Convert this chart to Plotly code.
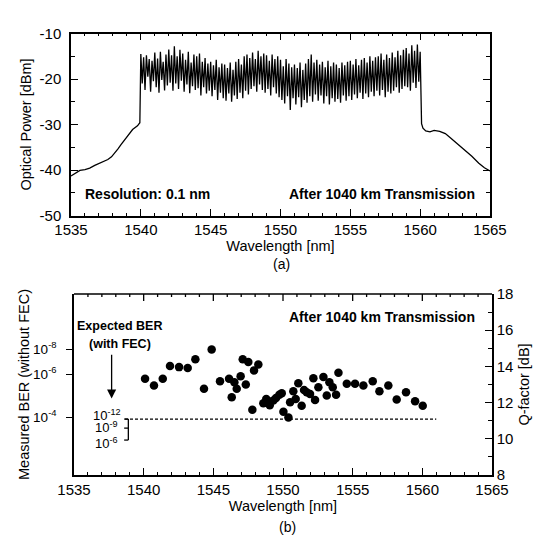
import plotly.graph_objects as go

# ---- panel (a): optical spectrum after 1040 km ----
# left ASE skirt
skirt_l_wl = [1535.0, 1535.3, 1535.64, 1536.0, 1536.34, 1536.7, 1537.05, 1537.4, 1537.64,
              1537.9, 1538.11, 1538.35, 1538.58, 1538.8, 1539.06, 1539.41, 1539.76, 1539.93]
skirt_l_dbm = [-41.3, -40.7, -40.1, -39.9, -39.6, -39.0, -38.5, -38.1, -37.7,
               -37.1, -36.4, -35.4, -34.4, -33.5, -32.5, -31.1, -30.3, -29.6]

# WDM band, sampled every 0.1 nm from 1540.0 nm
BAND_START = 1540.0
BAND_STEP = 0.1
band_dbm = [
    -14.5, -21.0, -15.2, -22.4, -14.8, -19.5, -15.6, -22.8, -16.0, -20.5,  # 1540
    -14.2, -21.8, -15.5, -23.0, -14.0, -20.2, -16.2, -22.5, -14.6, -21.4,  # 1541
    -13.5, -20.8, -14.8, -22.6, -12.8, -21.0, -15.0, -22.2, -13.6, -20.4,  # 1542
    -14.4, -22.8, -15.8, -21.2, -14.0, -23.1, -16.4, -21.6, -14.6, -22.4,  # 1543
    -15.0, -22.0, -14.4, -23.6, -16.2, -21.8, -15.4, -23.2, -16.6, -22.6,  # 1544
    -16.2, -23.8, -17.0, -22.4, -15.8, -24.6, -17.4, -23.0, -16.6, -24.2,  # 1545
    -16.8, -24.8, -17.6, -23.2, -16.4, -25.0, -18.0, -23.6, -16.2, -24.4,  # 1546
    -15.6, -23.0, -16.8, -24.2, -15.0, -22.6, -14.6, -23.4, -15.4, -22.2,  # 1547
    -14.2, -21.6, -15.6, -22.8, -13.8, -21.2, -15.0, -22.4, -14.4, -23.0,  # 1548
    -14.8, -22.2, -16.0, -23.6, -14.6, -21.8, -15.6, -23.2, -15.0, -24.0,  # 1549
    -15.8, -24.6, -17.2, -25.4, -15.6, -23.8, -16.6, -26.8, -17.4, -24.2,  # 1550
    -16.8, -25.6, -17.6, -24.0, -16.4, -26.2, -18.0, -24.6, -16.6, -25.2,  # 1551
    -15.6, -23.8, -14.6, -25.0, -16.4, -23.4, -15.8, -24.8, -16.8, -23.6,  # 1552
    -16.2, -25.4, -17.4, -23.8, -16.0, -25.6, -17.2, -24.2, -16.4, -25.0,  # 1553
    -16.8, -24.4, -17.6, -25.2, -16.4, -23.6, -17.0, -24.8, -16.2, -23.8,  # 1554
    -16.0, -24.6, -16.8, -23.4, -15.6, -24.2, -17.0, -23.0, -15.8, -24.4,  # 1555
    -15.4, -23.2, -16.4, -24.0, -15.0, -22.8, -16.0, -23.8, -15.2, -22.6,  # 1556
    -15.0, -23.6, -14.4, -22.4, -15.8, -24.0, -14.6, -22.8, -15.4, -23.2,  # 1557
    -14.2, -22.6, -15.2, -21.8, -13.8, -23.0, -14.8, -22.2, -13.6, -21.6,  # 1558
    -13.2, -21.8, -14.4, -22.6, -12.6, -20.8, -13.8, -22.0, -12.4, -20.6,  # 1559
]

# right ASE skirt
skirt_r_wl = [1560.0, 1560.05, 1560.1, 1560.2, 1560.4, 1560.7, 1561.0, 1561.4, 1561.8,
              1562.2, 1562.7, 1563.2, 1563.7, 1564.2, 1564.6, 1565.0]
skirt_r_dbm = [-14.0, -25.0, -29.8, -30.8, -31.4, -31.6, -31.3, -31.5, -32.0,
               -33.0, -34.3, -35.6, -37.0, -38.5, -39.5, -40.2]

power_ticks = [-50, -40, -30, -20, -10]
power_tick_text = ["-50", "-40", "-30", "-20", "-10"]

# ---- panel (b): Q-factor per channel ----
ch_wl = [1540.10, 1540.74, 1541.37, 1541.89, 1542.54, 1543.16, 1543.71, 1544.88, 1544.33,
         1545.48, 1546.13, 1546.32, 1546.68, 1546.51, 1546.96, 1547.33, 1547.11, 1547.51,
         1548.23, 1547.92, 1547.80, 1548.59, 1548.80, 1548.95, 1549.05, 1549.31, 1549.50,
         1549.74, 1549.91, 1550.03, 1550.39, 1550.51, 1550.74, 1550.91, 1551.10, 1551.34,
         1551.51, 1551.70, 1551.94, 1552.30, 1552.18, 1552.54, 1552.90, 1553.14, 1553.33,
         1553.57, 1553.81, 1553.98, 1554.58, 1555.17, 1555.77, 1556.44, 1556.92, 1557.56,
         1558.16, 1558.83, 1559.48, 1560.03]
ch_q = [13.32, 12.94, 13.32, 14.02, 13.96, 13.91, 14.39, 14.94, 12.76,
        13.18, 13.32, 12.30, 12.76, 13.13, 13.46, 13.00, 14.39, 14.24,
        14.11, 13.78, 11.61, 11.96, 12.20, 12.07, 11.85, 12.11, 12.25,
        12.44, 12.52, 11.50, 11.18, 12.02, 12.63, 12.20, 13.07, 11.83,
        12.70, 12.57, 12.48, 12.15, 13.35, 12.85, 13.41, 12.39, 13.13,
        12.85, 12.43, 13.65, 13.04, 13.04, 12.94, 13.18, 12.63, 12.94,
        12.17, 12.57, 12.07, 11.83]

# left BER axis: where each BER value sits on the Q scale
ber_tick_q = [14.95, 13.57, 11.2]
ber_tick_text = ["10<sup>-8</sup>", "10<sup>-6</sup>", "10<sup>-4</sup>"]

# FEC threshold line and the post-FEC labels beside it
fec_q = 11.09
fec_wl = [1538.66, 1561.0]
fec_labels = ["10<sup>-12</sup>", "10<sup>-9</sup>", "10<sup>-6</sup>"]
fec_label_q = [11.33, 10.67, 9.79]
fec_bracket_q = [11.09, 10.59, 9.93]

band_wl = [round(BAND_START + BAND_STEP * i, 2) for i in range(len(band_dbm))]
spec_wl = skirt_l_wl + band_wl + skirt_r_wl
spec_dbm = skirt_l_dbm + band_dbm + skirt_r_dbm

# the page body adds an 8px margin, so the figure is drawn 8px in from the corner
W, H, PAD = 535, 528, 8
B_LEFT, B_RIGHT, B_TOP, B_BOTTOM = 74, 492, 294, 475  # panel (b) frame, page px


def fx(px):
    return (px - PAD) / W


def fy(px):
    return 1 - (px - PAD) / H


FONT = "Liberation Sans, Arial, sans-serif"
INK = "black"

fig = go.Figure()

fig.add_trace(go.Scatter(
    x=spec_wl, y=spec_dbm, mode="lines",
    line=dict(color=INK, width=1.3),
    xaxis="x", yaxis="y", showlegend=False
))

fig.add_trace(go.Scatter(
    x=ch_wl, y=ch_q, mode="markers",
    marker=dict(color=INK, size=8.5),
    xaxis="x2", yaxis="y3", showlegend=False
))
# same points, invisible, on the right (Q-factor) axis so plotly draws it
fig.add_trace(go.Scatter(
    x=ch_wl, y=ch_q, mode="markers",
    marker=dict(color=INK, size=8.5, opacity=0),
    xaxis="x2", yaxis="y4", showlegend=False, hoverinfo="skip"
))

axis_common = dict(
    showline=True, linecolor=INK, linewidth=1.5, showgrid=False, zeroline=False,
    tickcolor=INK, tickfont=dict(size=15, color=INK, family=FONT), automargin=False,
)
title_font = dict(size=14.5, color=INK, family=FONT)
wl_ticks = dict(
    range=[1535, 1565], dtick=5, ticks="inside", ticklen=7, tickwidth=1.3,
    minor=dict(dtick=1, ticks="inside", ticklen=3, tickcolor=INK),
)

fig.update_layout(
    width=W, height=H,
    margin=dict(l=0, r=0, t=0, b=0),
    paper_bgcolor="white", plot_bgcolor="white",
    font=dict(family=FONT, color=INK),
    xaxis=dict(
        domain=[fx(71), fx(490)], anchor="y", mirror="ticks",
        title=dict(text="Wavelength [nm]", font=title_font, standoff=1),
        **wl_ticks, **axis_common
    ),
    yaxis=dict(
        domain=[fy(215.5), fy(33.5)], anchor="x", range=[-50, -10],
        tickmode="array", tickvals=power_ticks, ticktext=power_tick_text,
        ticks="inside", ticklen=7, tickwidth=1.3, mirror="ticks", ticklabelstandoff=5,
        minor=dict(dtick=5, ticks="inside", ticklen=4, tickcolor=INK),
        title=dict(text="Optical Power [dBm]", font=title_font, standoff=4),
        **axis_common
    ),
    xaxis2=dict(
        domain=[fx(B_LEFT), fx(B_RIGHT)], anchor="y3",
        title=dict(text="Wavelength [nm]", font=title_font, standoff=0),
        **wl_ticks, **axis_common
    ),
    yaxis3=dict(
        domain=[fy(B_BOTTOM), fy(B_TOP)], anchor="x2", range=[8, 18], side="left",
        tickmode="array", tickvals=ber_tick_q, ticktext=ber_tick_text,
        ticks="outside", ticklen=6, tickwidth=1.3, ticklabelstandoff=7,
        title=dict(text="Measured BER (without FEC)", font=title_font, standoff=0),
        **{**axis_common, "tickfont": dict(size=13.5, color=INK, family=FONT)}
    ),
    yaxis4=dict(
        anchor="x2", overlaying="y3", side="right",
        range=[8, 18], dtick=2, ticks="inside", ticklen=7, tickwidth=1.3,
        minor=dict(dtick=1, ticks="inside", ticklen=4, tickcolor=INK),
        title=dict(text="Q-factor [dB]", font=title_font, standoff=6),
        **axis_common
    ),
)

# top frame of panel (b) with its inward ticks, on the paper layer
fig.add_shape(type="line", xref="paper", yref="paper", layer="above",
              x0=fx(B_LEFT), x1=fx(B_RIGHT), y0=fy(B_TOP), y1=fy(B_TOP),
              line=dict(color=INK, width=1.5))
px_per_nm = (B_RIGHT - B_LEFT) / 30
for t in range(1, 30):
    tick_len = 7 if t % 5 == 0 else 3
    tx = fx(B_LEFT + t * px_per_nm)
    fig.add_shape(type="line", xref="paper", yref="paper", layer="above",
                  x0=tx, x1=tx, y0=fy(B_TOP), y1=fy(B_TOP + tick_len),
                  line=dict(color=INK, width=1.3))

# FEC threshold and bracket
fig.add_shape(type="line", xref="x2", yref="y3",
              x0=fec_wl[0], x1=fec_wl[1], y0=fec_q, y1=fec_q,
              line=dict(color=INK, width=1.3, dash="3px,2px"))
fig.add_shape(type="line", xref="x2", yref="y3",
              x0=1538.9, x1=1538.9, y0=fec_bracket_q[0], y1=fec_bracket_q[-1],
              line=dict(color=INK, width=1.3))
for q in fec_bracket_q:
    fig.add_shape(type="line", xref="x2", yref="y3",
                  x0=1538.6, x1=1538.9, y0=q, y1=q,
                  line=dict(color=INK, width=1.3))

for txt, q in zip(fec_labels, fec_label_q):
    fig.add_annotation(x=1537.35, y=q, xref="x2", yref="y3", text=txt,
                       showarrow=False, font=dict(size=13, color=INK, family=FONT))

# panel texts
bold = dict(size=14, color=INK, family=FONT)
fig.add_annotation(x=1535.85, y=-45.3, xref="x", yref="y", xanchor="left",
                   text="<b>Resolution: 0.1 nm</b>", showarrow=False, font=bold)
fig.add_annotation(x=1564.05, y=-45.3, xref="x", yref="y", xanchor="right",
                   text="<b>After 1040 km Transmission</b>", showarrow=False, font=bold)
fig.add_annotation(x=1563.95, y=16.74, xref="x2", yref="y3", xanchor="right",
                   text="<b>After 1040 km Transmission</b>", showarrow=False, font=bold)
fig.add_annotation(x=1538.3, y=16.22, xref="x2", yref="y3",
                   text="<b>Expected BER</b>", showarrow=False,
                   font=dict(size=12.5, color=INK, family=FONT))
fig.add_annotation(x=1538.3, y=15.22, xref="x2", yref="y3",
                   text="<b>(with FEC)</b>", showarrow=False,
                   font=dict(size=12.5, color=INK, family=FONT))
fig.add_annotation(x=1537.7, y=12.22, ax=1537.7, ay=14.72,
                   xref="x2", yref="y3", axref="x2", ayref="y3",
                   text="", showarrow=True, arrowhead=2, arrowsize=1.4,
                   arrowwidth=1.3, arrowcolor=INK)

fig.add_annotation(x=fx(281), y=fy(264), xref="paper", yref="paper", text="(a)",
                   xanchor="center", yanchor="middle",
                   showarrow=False, font=dict(size=14, color=INK, family=FONT))
fig.add_annotation(x=fx(287), y=fy(527), xref="paper", yref="paper", text="(b)",
                   xanchor="center", yanchor="middle",
                   showarrow=False, font=dict(size=14, color=INK, family=FONT))

fig.write_html("out.html")
